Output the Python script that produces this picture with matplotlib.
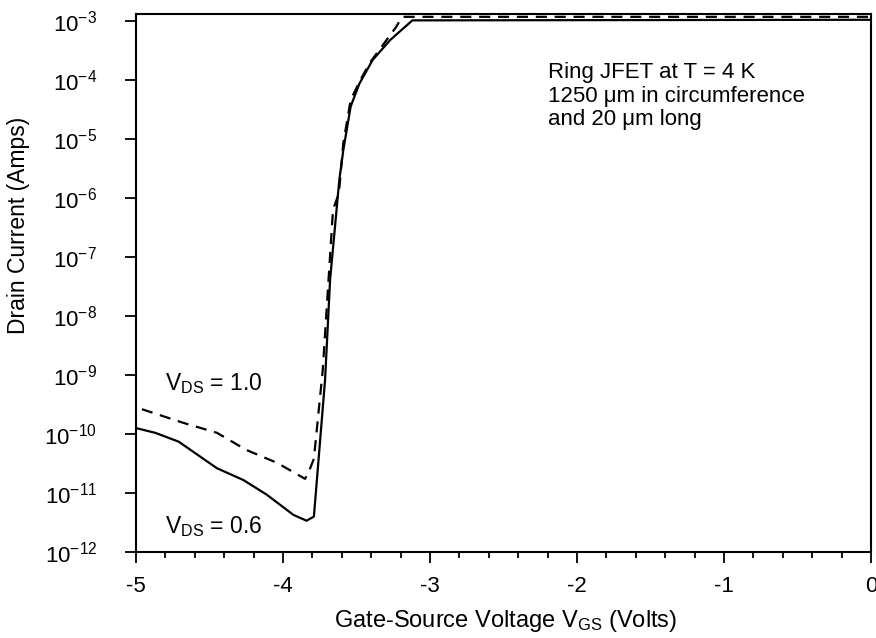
import numpy as np
import matplotlib
matplotlib.use('Agg')
import matplotlib.pyplot as plt
from matplotlib.ticker import LogLocator, MultipleLocator, NullLocator

plt.rcParams['font.family'] = ['Liberation Sans', 'DejaVu Sans']
plt.rcParams['mathtext.fontset'] = 'custom'
plt.rcParams['mathtext.rm'] = 'Liberation Sans'
plt.rcParams['mathtext.it'] = 'Liberation Sans'
plt.rcParams['axes.unicode_minus'] = False

# V_DS = 0.6 (solid), gate voltage vs log10 of drain current
vgs_06 = [-5.0, -4.87, -4.71, -4.45, -4.27, -4.11, -3.93, -3.84, -3.79,
          -3.714, -3.68, -3.617, -3.59, -3.54, -3.48, -3.39, -3.27, -3.12, 0.0]
logid_06 = [-9.90, -9.98, -10.13, -10.58, -10.78, -11.03, -11.37, -11.47, -11.40,
            -9.08, -7.39, -5.69, -5.19, -4.45, -4.06, -3.66, -3.32, -2.99, -2.98]

# V_DS = 1.0 (dashed)
vgs_10 = [-4.96, -4.68, -4.45, -4.25, -4.04, -3.85, -3.82, -3.79,
          -3.73, -3.66, -3.62, -3.59, -3.54, -3.48, -3.41, -3.33, -3.23, -3.19, 0.0]
logid_10 = [-9.58, -9.81, -9.98, -10.27, -10.49, -10.76, -10.61, -10.42,
            -8.92, -6.20, -5.92, -5.07, -4.34, -4.03, -3.71, -3.44, -3.10, -2.93, -2.93]

id_06 = 10.0 ** np.array(logid_06)
id_10 = 10.0 ** np.array(logid_10)

fig = plt.figure(figsize=(8.76, 6.38), dpi=100)
ax = fig.add_axes([0.1553, 0.1348, 0.8390, 0.8432])

ax.plot(vgs_06, id_06, color='black', lw=1.6, solid_joinstyle='round')
ax.plot(vgs_10, id_10, color='black', lw=1.6, ls=(0, (5, 3.5)))

ax.set_yscale('log')
ax.set_xlim(-5, 0)
ax.set_ylim(1e-12, 1.31e-3)

ax.yaxis.set_major_locator(LogLocator(base=10, numticks=20))
ax.yaxis.set_minor_locator(NullLocator())
ax.xaxis.set_major_locator(MultipleLocator(1))
ax.xaxis.set_minor_locator(MultipleLocator(0.2))

for sp in ax.spines.values():
    sp.set_linewidth(1.5)
ax.tick_params(axis='both', which='major', direction='out', length=8, width=1.3,
               labelsize=16)
ax.tick_params(axis='y', which='major', pad=20)
ax.tick_params(axis='x', which='major', pad=9)
ax.tick_params(axis='x', which='minor', direction='out', length=4, width=1.3)

ax.set_xlabel(r'Gate-Source Voltage $\mathregular{V_{GS}}$ (Volts)', fontsize=17)
ax.set_ylabel('Drain Current (Amps)', fontsize=16.5)
ax.xaxis.set_label_coords(0.503, -0.104)
ax.yaxis.set_label_coords(-0.144, 0.608)

ax.text(-4.80, 5.6e-10, r'$\mathregular{V_{DS}}$ = 1.0', fontsize=16.5, va='baseline')
ax.text(-4.80, 2.1e-12, r'$\mathregular{V_{DS}}$ = 0.6', fontsize=16.5, va='baseline')

ax.text(-2.197, 2.0e-4, 'Ring JFET at T = 4 K\n1250 \u03bcm in circumference\nand 20 \u03bcm long',
        fontsize=16, va='top', ha='left', linespacing=1.15)

fig.savefig('out.png', dpi=100)
